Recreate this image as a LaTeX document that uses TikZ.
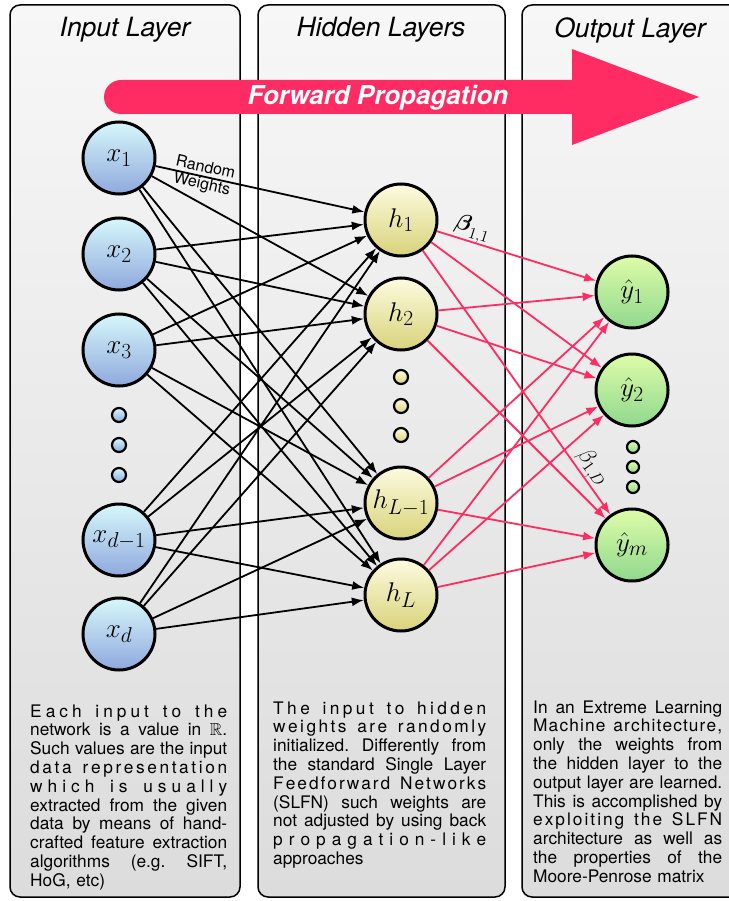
\RequirePackage{fix-cm}
\documentclass[tikz,border=0pt]{standalone}
\usepackage{amsmath,amssymb}
\usepackage{fontspec}
\setsansfont{TeX Gyre Heros}
\usetikzlibrary{arrows.meta,positioning}
\DeclareMathSizes{27}{27}{21.5}{16}

\definecolor{fwdpink}{RGB}{255,44,99}
\definecolor{panelTop}{RGB}{247,247,247}
\definecolor{panelBot}{RGB}{220,220,220}
\definecolor{inTop}{RGB}{214,248,251}
\definecolor{inBot}{RGB}{143,168,221}
\definecolor{hidTop}{RGB}{253,251,224}
\definecolor{hidBot}{RGB}{216,211,122}
\definecolor{outTop}{RGB}{222,252,168}
\definecolor{outBot}{RGB}{144,216,142}

% lines of the notes: letter spaced, justified, last line
\makeatletter
\newcommand\spaced[1]{\hbox to\linewidth{\@tfor\sp@c:=#1\do{\sp@c\hfil}\unskip}\par}
\makeatother
\newcommand\justline[1]{\hbox to\linewidth{\spaceskip=0.28em plus 1fil\xspaceskip=0.3em plus 1fil\relax #1}\par}
\newcommand\lastline[1]{\hbox to\linewidth{#1\hfil}\par}

\tikzset{
    every node/.style={font=\sffamily},
    panel/.style={draw=black, line width=1.5pt, rounded corners=10pt,
        top color=panelTop, bottom color=panelBot},
    layer title/.style={font=\sffamily\itshape\fontsize{26.5}{30}\selectfont},
    fwd label/.style={text=white, font=\sffamily\bfseries\itshape\fontsize{26}{30}\selectfont},
    neuron/.style={circle, draw=black, line width=3pt, minimum size=72pt,
        inner sep=0pt, font=\fontsize{27}{30}\selectfont},
    input node/.style={neuron, top color=inTop, bottom color=inBot},
    hidden node/.style={neuron, top color=hidTop, bottom color=hidBot},
    output node/.style={neuron, top color=outTop, bottom color=outBot},
    skip dot/.style={circle, draw=black, line width=2.2pt, minimum size=14pt, inner sep=0pt},
    weight/.style={black, line width=1.8pt},
    beta edge/.style={fwdpink, line width=1.8pt},
    weight label/.style={align=center, inner sep=0pt, font=\sffamily\fontsize{16}{17}\selectfont},
    beta label/.style={inner sep=1pt, font=\fontsize{23}{28}\selectfont},
    note/.style={inner sep=0pt, anchor=base west, font=\sffamily\fontsize{17.3}{18.8}\selectfont}
}

\begin{document}
\begin{tikzpicture}[
        x = 1pt, y = -1pt, % pixel units, y going down
        > = {Latex[length=12pt, width=9pt]} % arrow head style
    ]
    \useasboundingbox (0,0) rectangle (728,901);

    % layer panels
    \draw[panel] (10,5) rectangle (240,897);
    \draw[panel] (258,5) rectangle (505,897);
    \draw[panel] (522,5) rectangle (760,897);

    \node[layer title] (tin) at (125,30) {Input Layer};
    \node[layer title] (thid) at (381,30) {Hidden Layers};
    \node[layer title] (tout) at (630,30) {Output Layer};

    % forward propagation arrow
    \fill[fwdpink, rounded corners=17pt] (104,80) rectangle (600,114);
    \fill[fwdpink] (572,49) -- (699,97) -- (572,145) -- cycle;
    \node[fwd label] (fwd) at (378,98) {Forward Propagation};

    % input layer
    \node[input node] (x1) at (119,158) {$x_1$};
    \node[input node] (x2) at (119,254) {$x_2$};
    \node[input node] (x3) at (119,350) {$x_3$};
    \foreach \y [count=\k] in {415,445,475}
        \node[skip dot, top color=inTop, bottom color=inBot] (xdot\k) at (119,\y) {};
    \node[input node] (xd1) at (119,540) {$x_{d-1}$};
    \node[input node] (xd) at (119,634) {$x_d$};

    % hidden layer
    \node[hidden node] (h1) at (401,220) {$h_1$};
    \node[hidden node] (h2) at (401,314) {$h_2$};
    \foreach \y [count=\k] in {377,406,435}
        \node[skip dot, top color=hidTop, bottom color=hidBot] (hdot\k) at (401,\y) {};
    \node[hidden node] (hL1) at (401,503) {$h_{L-1}$};
    \node[hidden node] (hL) at (401,595) {$h_L$};

    % output layer
    \node[output node] (y1) at (632,292) {$\hat{y}_1$};
    \node[output node] (y2) at (632,390) {$\hat{y}_2$};
    \foreach \y [count=\k] in {447,467,487}
        \node[skip dot, minimum size=12pt, top color=outTop, bottom color=outBot] (ydot\k) at (633,\y) {};
    \node[output node] (ym) at (632,545) {$\hat{y}_m$};

    % random input weights
    \foreach \i in {1,2,3,d1,d}
        \foreach \j in {1,2,L1,L}
            \path[->, weight] (x\i) edge (h\j);

    % learned output weights
    \foreach \j in {1,2,L1,L}
        \foreach \k in {1,2,m}
            \path[->, beta edge] (h\j) edge (y\k);

    \path (x1) -- node[weight label, sloped, pos=0.23] (rw) {Random\\Weights} (h1);
    \path (h1) -- node[beta label, sloped, above, inner sep=0pt, pos=0.2] (b11) {$\boldsymbol{\beta}_{1,1}$} (y1);
    \path (h1) -- node[beta label, sloped, above, pos=0.85] (b1d) {$\beta_{1,D}$} (ym);

    % notes
    \node[note, text width=197pt] (note1) at (30,717) {%
        \spaced{Each~input~to~the}
        \justline{network is a value in $\mathbb{R}$.}
        \justline{Such values are the input}
        \spaced{data~representation}
        \spaced{which~is~usually}
        \justline{extracted from the given}
        \justline{data by means of hand-}
        \justline{crafted feature extraction}
        \justline{algorithms (e.g. SIFT,}
        \lastline{HoG, etc)}};
    \node[note, text width=213pt] (note2) at (273,714) {%
        \spaced{The~input~to~hidden}
        \spaced{weights~are~randomly}
        \justline{initialized. Differently from}
        \justline{the standard Single Layer}
        \spaced{Feedforward~Networks}
        \justline{(SLFN) such weights are}
        \justline{not adjusted by using back}
        \spaced{propagation-like}
        \lastline{approaches}};
    \node[note, text width=189pt] (note3) at (533,713) {%
        \justline{In an Extreme Learning}
        \spaced{Machine~architecture,}
        \justline{only the weights from}
        \justline{the hidden layer to the}
        \justline{output layer are learned.}
        \justline{This is accomplished by}
        \spaced{exploiting~the~SLFN}
        \justline{architecture as well as}
        \justline{the properties of the}
        \lastline{Moore-Penrose matrix}};
\end{tikzpicture}
\end{document}
